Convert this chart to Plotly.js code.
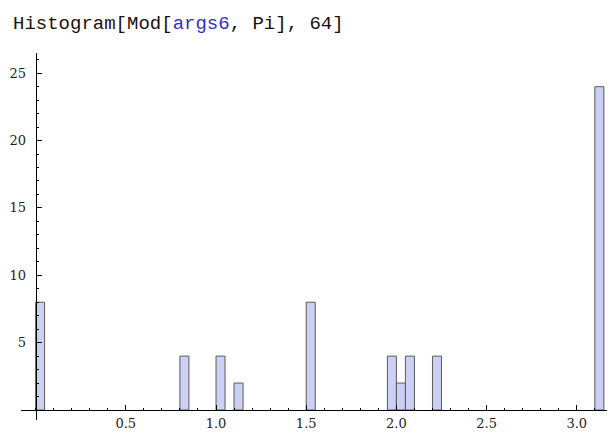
<!DOCTYPE html>
<html>
<head>
<meta charset="utf-8">
<script src="https://cdn.plot.ly/plotly-3.0.1.min.js"></script>
<style>html,body{margin:0;padding:0;background:#fff;}#chart{width:611px;height:434px;}</style>
</head>
<body>
<div id="chart"></div>
<script>
// Histogram bins (start of each bin) and counts, bin width 0.05
var binStarts = [0.0, 0.8, 1.0, 1.1, 1.5, 1.95, 2.0, 2.05, 2.2, 3.1];
var counts    = [8,   4,   4,   2,   8,   4,    2,   4,    4,   24];
var binWidth  = 0.05;
var xTickVals = [0.5, 1.0, 1.5, 2.0, 2.5, 3.0];
var xTickText = ["0.5", "1.0", "1.5", "2.0", "2.5", "3.0"];
var yTickVals = [5, 10, 15, 20, 25];
var yTickText = ["5", "10", "15", "20", "25"];

var xr = [-0.0809, 3.1674];
var yr = [-0.742, 26.50];

var trace = {
  type: 'bar',
  x: binStarts,
  y: counts,
  width: binStarts.map(function(){return binWidth;}),
  offset: 0,
  marker: {color: '#ccd0f4', line: {color: '#5a5a5a', width: 1}},
  hoverinfo: 'x+y'
};

var tickFont = {family: '"DejaVu Serif", "Liberation Serif", serif', size: 13, color: '#222'};

var layout = {
  width: 611, height: 434,
  margin: {l: 21, r: 4, t: 53, b: 14, pad: 0},
  paper_bgcolor: '#fff', plot_bgcolor: '#fff',
  showlegend: false,
  bargap: 0,
  title: {
    text: 'Histogram[Mod[<span style="color:#2f2fc4">args6</span>, Pi], 64]',
    font: {family: '"Liberation Mono", "Courier New", monospace', size: 19, color: '#1a1010'},
    xref: 'container', yref: 'container',
    x: 13/611, xanchor: 'left',
    y: 1 - 22/434, yanchor: 'middle'
  },
  xaxis: {
    range: xr,
    anchor: 'free',
    position: (0 - yr[0]) / (yr[1] - yr[0]),
    showline: true, linecolor: '#000', linewidth: 1,
    showgrid: false, zeroline: false,
    ticks: 'inside', ticklen: 5, tickwidth: 1, tickcolor: '#000',
    tickmode: 'array', tickvals: xTickVals, ticktext: xTickText,
    minor: {ticks: 'inside', ticklen: 2.5, tickwidth: 1, tickcolor: '#000', dtick: 0.1, tick0: 0, showgrid: false},
    tickfont: tickFont,
    ticklabelstandoff: 1,
    fixedrange: true
  },
  yaxis: {
    range: yr,
    anchor: 'free',
    position: (0 - xr[0]) / (xr[1] - xr[0]),
    showline: true, linecolor: '#000', linewidth: 1,
    showgrid: false, zeroline: false,
    ticks: 'inside', ticklen: 5, tickwidth: 1, tickcolor: '#000',
    tickmode: 'array', tickvals: yTickVals, ticktext: yTickText,
    minor: {ticks: 'inside', ticklen: 2.5, tickwidth: 1, tickcolor: '#000', dtick: 1, tick0: 0, showgrid: false},
    tickfont: tickFont,
    ticklabelstandoff: 7,
    fixedrange: true
  }
};

Plotly.newPlot('chart', [trace], layout, {displayModeBar: false, staticPlot: true});
</script>
</body>
</html>
